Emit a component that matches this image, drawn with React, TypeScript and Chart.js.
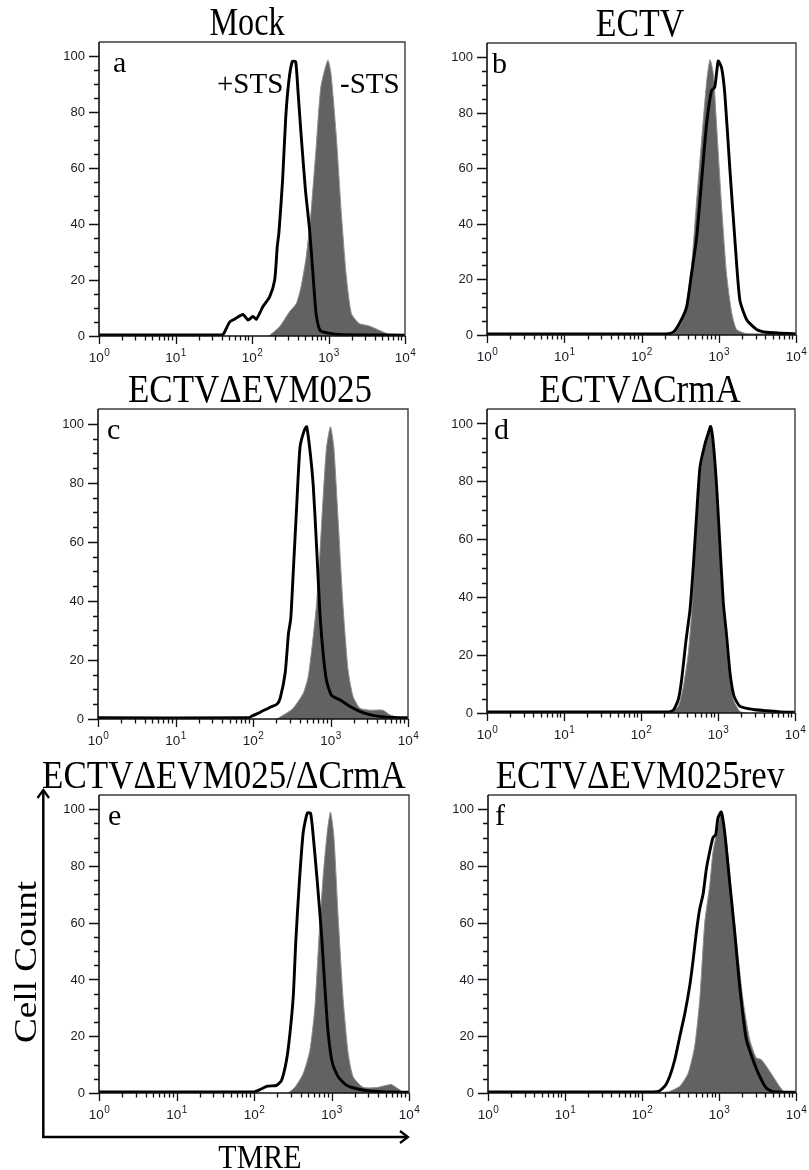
import { useEffect, useRef } from 'react';
import { Chart, registerables } from 'chart.js';

Chart.register(...registerables);

const SERIF = '"Liberation Serif", "Times New Roman", serif';
const SANS = '"Liberation Sans", Arial, sans-serif';

// TMRE fluorescence (x, log scale) and cell count (% of max, y) for each sample.
// "minus" = untreated (-STS, grey filled), "plus" = staurosporine treated (+STS, black line).
const aMinusX = [167, 229, 310, 380, 438, 510, 590, 690, 795, 980, 1075, 1260, 1470, 1700, 1990, 2500, 3400, 4650, 6300, 7000];
const aMinusY = [0, 3.3, 8.7, 11.6, 17.6, 28, 44, 67.5, 89, 98.5, 94, 72, 44, 22, 8, 4.5, 3.6, 2, 0.4, 0];
const aPlusX = [1, 40, 43, 51, 59, 76, 89, 103, 114, 139, 170, 198, 214, 225, 251, 276, 303, 336, 372, 398, 438, 500, 566, 635, 688, 776, 1000, 1500, 10000];
const aPlusY = [0.4, 0.4, 1, 5, 6, 7.7, 5.7, 7, 6, 10.5, 14, 20, 32, 37, 55.6, 78, 91, 98, 98, 88, 72, 52, 38, 20, 8, 2, 1, 0.5, 0.3];

const bMinusX = [258, 330, 383, 444, 517, 600, 697, 770, 850, 935, 1090, 1260, 1470, 1700, 2300, 5000, 5600, 6900, 8000];
const bMinusY = [0, 4.3, 11.4, 24.5, 48, 70, 91, 99, 94, 76, 46, 22, 8, 2, 0.5, 0.6, 1, 0.3, 0];
const bPlusX = [1, 210, 258, 312, 383, 444, 517, 600, 697, 808, 887, 984, 1090, 1200, 1390, 1620, 1875, 2300, 3090, 4160, 10000];
const bPlusY = [0.4, 0.4, 1, 4.3, 10, 22, 35, 55.5, 76, 88, 89, 98.5, 96, 86.5, 60, 34, 12.6, 5.5, 2, 1, 0.4];

const cMinusX = [203, 273, 332, 447, 517, 599, 661, 730, 805, 889, 1000, 1104, 1254, 1453, 1683, 1950, 2378, 3192, 4730, 5750, 7740, 8500];
const cMinusY = [0, 2, 3.7, 8.8, 14.5, 28, 39, 56, 75.5, 92, 99, 92, 67.5, 38, 16.7, 7.7, 3.7, 3, 3, 1.5, 0.3, 0];
const cPlusX = [1, 88, 97, 124, 167, 203, 224, 260, 287, 307, 332, 366, 404, 455, 492, 543, 599, 661, 730, 805, 889, 1030, 1318, 1770, 2378, 3192, 4285, 6320, 10000];
const cPlusY = [0.4, 0.4, 1, 2.3, 4, 5, 7, 15.6, 29, 34, 50.6, 72, 92, 97.5, 99, 91, 79, 58.5, 36, 22, 13, 8, 6.5, 4.3, 2.6, 1.5, 0.9, 0.5, 0.4];

const dMinusX = [238, 305, 355, 412, 455, 502, 556, 645, 749, 803, 870, 961, 1062, 1197, 1361, 1581, 1930, 2356];
const dMinusY = [0, 2.3, 9.2, 20.7, 34.5, 55, 77, 90, 96.7, 99, 91, 75, 52, 33, 16, 4.6, 0.5, 0];
const dPlusX = [1, 226, 263, 305, 337, 384, 433, 478, 529, 584, 678, 749, 803, 870, 961, 1062, 1173, 1296, 1432, 1613, 1930, 2880, 4280, 6380, 10000];
const dPlusY = [0.4, 0.4, 1, 4.6, 11.5, 25, 35.7, 50.6, 69, 85, 93, 96.7, 99, 93, 78, 57.5, 38, 26.5, 13.8, 5.8, 2.3, 1.2, 0.8, 0.4, 0.3];

const eMinusX = [277, 337, 431, 526, 610, 693, 781, 880, 970, 1072, 1219, 1413, 1640, 1901, 2558, 3795, 5100, 5930, 6870, 8380, 9000];
const eMinusY = [0, 2, 6.8, 15, 30, 56, 76.4, 91.7, 99, 90.6, 62, 33, 14, 5.7, 2, 1.9, 2.7, 3, 1.9, 0.3, 0];
const ePlusX = [1, 100, 119, 149, 196, 227, 263, 291, 321, 347, 384, 431, 486, 537, 581, 653, 743, 820, 906, 1030, 1219, 1561, 2099, 3118, 5100, 10000];
const ePlusY = [0.4, 0.4, 1.2, 2.4, 2.7, 4.5, 11.6, 21, 34, 54, 74, 91.7, 98.6, 98.6, 90.6, 75, 56, 37.5, 21, 10.4, 5.7, 2.7, 1.5, 0.7, 0.35, 0.3];

const fMinusX = [171, 230, 310, 398, 484, 563, 653, 757, 836, 942, 1072, 1244, 1443, 1675, 2043, 2493, 3043, 3528, 4094, 4993, 6082, 7060, 7500];
const fMinusY = [0, 0.6, 2.4, 7, 16.5, 33, 60, 73, 85, 92, 99, 89, 71, 54, 33, 19, 12.4, 11.8, 9.5, 6, 2.4, 0.3, 0];
const fPlusX = [1, 127, 163, 198, 230, 267, 310, 360, 418, 462, 510, 563, 621, 686, 757, 836, 906, 971, 1072, 1184, 1374, 1595, 1850, 2256, 2754, 3357, 4094, 4993, 10000];
const fPlusY = [0.4, 0.4, 0.6, 2.4, 6, 11.8, 20, 28, 38, 47, 57, 65, 70, 79, 85, 90, 91, 97, 99, 92, 74.5, 57, 38, 19, 11.8, 6, 1.8, 0.5, 0.3];

// Axis ticks
const X_DECADES = [1, 10, 100, 1000, 10000];
const X_EXPONENTS = ['0', '1', '2', '3', '4'];
const Y_MAJOR = [0, 20, 40, 60, 80, 100];
const Y_LABELS = ['0', '20', '40', '60', '80', '100'];

type Box = { left: number; top: number; right: number; bottom: number };
type Note = { text: string; dx: number; dy: number };
type Panel = {
  key: string;
  title: string;
  titleX: number;
  titleScaleX: number;
  letter: string;
  letterDx: number;
  minusX: number[];
  minusY: number[];
  plusX: number[];
  plusY: number[];
  box: Box;
  notes: Note[];
};

const PANELS: Panel[] = [
  { key: 'a', title: 'Mock', titleX: 247, titleScaleX: 0.92, letter: 'a', letterDx: 14, minusX: aMinusX, minusY: aMinusY, plusX: aPlusX, plusY: aPlusY,
    box: { left: 99, top: 42, right: 405, bottom: 336 },
    notes: [{ text: '+STS', dx: 118, dy: 51 }, { text: '-STS', dx: 241, dy: 51 }] },
  { key: 'b', title: 'ECTV', titleX: 640, titleScaleX: 0.97, letter: 'b', letterDx: 5, minusX: bMinusX, minusY: bMinusY, plusX: bPlusX, plusY: bPlusY,
    box: { left: 487, top: 43, right: 796, bottom: 335 }, notes: [] },
  { key: 'c', title: 'ECTVΔEVM025', titleX: 250, titleScaleX: 1, letter: 'c', letterDx: 9, minusX: cMinusX, minusY: cMinusY, plusX: cPlusX, plusY: cPlusY,
    box: { left: 98, top: 409, right: 408, bottom: 719 }, notes: [] },
  { key: 'd', title: 'ECTVΔCrmA', titleX: 640, titleScaleX: 1, letter: 'd', letterDx: 7, minusX: dMinusX, minusY: dMinusY, plusX: dPlusX, plusY: dPlusY,
    box: { left: 487, top: 409, right: 795, bottom: 713 }, notes: [] },
  { key: 'e', title: 'ECTVΔEVM025/ΔCrmA', titleX: 224, titleScaleX: 1, letter: 'e', letterDx: 9, minusX: eMinusX, minusY: eMinusY, plusX: ePlusX, plusY: ePlusY,
    box: { left: 99, top: 795, right: 409, bottom: 1093 }, notes: [] },
  { key: 'f', title: 'ECTVΔEVM025rev', titleX: 640, titleScaleX: 1, letter: 'f', letterDx: 7, minusX: fMinusX, minusY: fMinusY, plusX: fPlusX, plusY: fPlusY,
    box: { left: 488, top: 795, right: 796, bottom: 1093 }, notes: [] },
];

const PAD = { left: 62, top: 10, right: 12, bottom: 40 };

function toPoints(xs: number[], ys: number[]) {
  return xs.map((x, i) => ({ x, y: ys[i] }));
}

// Draws the frame, tick marks, tick labels, panel letter and annotations.
function decorations(panel: Panel) {
  return {
    id: 'decorations' + panel.key,
    afterDraw(chart: any) {
      const ctx: CanvasRenderingContext2D = chart.ctx;
      const xs = chart.scales.x;
      const ys = chart.scales.y;
      const { left, right, top, bottom } = chart.chartArea;
      ctx.save();

      // frame (top + right)
      ctx.strokeStyle = '#3c3c3c';
      ctx.lineWidth = 1.4;
      ctx.beginPath();
      ctx.moveTo(left, top);
      ctx.lineTo(right, top);
      ctx.lineTo(right, bottom);
      ctx.stroke();

      // axes
      ctx.strokeStyle = '#111';
      ctx.lineWidth = 1.6;
      ctx.beginPath();
      ctx.moveTo(left, top);
      ctx.lineTo(left, bottom);
      ctx.lineTo(right, bottom);
      ctx.stroke();

      // y ticks
      ctx.lineWidth = 1.3;
      ctx.beginPath();
      for (let v = 0; v <= 100; v += 5) {
        const py = Math.round(ys.getPixelForValue(v)) + 0.5;
        const len = v % 20 === 0 ? 10 : 5;
        ctx.moveTo(left, py);
        ctx.lineTo(left - len, py);
      }
      ctx.stroke();

      // x ticks
      ctx.beginPath();
      X_DECADES.forEach((d, i) => {
        const px = Math.round(xs.getPixelForValue(d)) + 0.5;
        ctx.moveTo(px, bottom);
        ctx.lineTo(px, bottom + 8);
        if (i < X_DECADES.length - 1) {
          for (let m = 2; m <= 9; m++) {
            const mx = Math.round(xs.getPixelForValue(d * m)) + 0.5;
            ctx.moveTo(mx, bottom);
            ctx.lineTo(mx, bottom + 4.5);
          }
        }
      });
      ctx.stroke();

      // y labels
      ctx.fillStyle = '#1b1b24';
      ctx.font = `13px ${SANS}`;
      ctx.textAlign = 'right';
      ctx.textBaseline = 'middle';
      Y_MAJOR.forEach((v, i) => {
        ctx.fillText(Y_LABELS[i], left - 14, ys.getPixelForValue(v) + 0.5);
      });

      // x labels: 10 with superscript exponent
      ctx.textAlign = 'left';
      ctx.textBaseline = 'alphabetic';
      X_DECADES.forEach((d, i) => {
        const px = xs.getPixelForValue(d);
        ctx.font = `13.5px ${SANS}`;
        const w1 = ctx.measureText('10').width;
        ctx.font = `10px ${SANS}`;
        const w2 = ctx.measureText(X_EXPONENTS[i]).width;
        const x0 = px - (w1 + w2) / 2;
        ctx.font = `13.5px ${SANS}`;
        ctx.fillText('10', x0, bottom + 26);
        ctx.font = `10px ${SANS}`;
        ctx.fillText(X_EXPONENTS[i], x0 + w1 + 0.5, bottom + 19.5);
      });

      // panel letter and notes
      ctx.fillStyle = '#000';
      ctx.font = `30px ${SERIF}`;
      ctx.fillText(panel.letter, left + panel.letterDx, top + 30);
      ctx.font = `29px ${SERIF}`;
      panel.notes.forEach((n) => ctx.fillText(n.text, left + n.dx, top + n.dy));

      ctx.restore();
    },
  };
}

function Histogram({ panel }: { panel: Panel }) {
  const ref = useRef<HTMLCanvasElement>(null);
  const { box } = panel;
  const width = box.right - box.left + PAD.left + PAD.right;
  const height = box.bottom - box.top + PAD.top + PAD.bottom;

  useEffect(() => {
    if (!ref.current) return;
    const chart = new Chart(ref.current, {
      type: 'line',
      data: {
        datasets: [
          {
            label: '-STS',
            data: toPoints(panel.minusX, panel.minusY),
            fill: 'origin',
            backgroundColor: '#626262',
            borderColor: '#8e8e8e',
            borderWidth: 1,
            pointRadius: 0,
            tension: 0.2,
            order: 2,
          },
          {
            label: '+STS',
            data: toPoints(panel.plusX, panel.plusY),
            fill: false,
            borderColor: '#000',
            borderWidth: 2.9,
            pointRadius: 0,
            tension: 0.2,
            order: 1,
          },
        ],
      },
      options: {
        animation: false,
        responsive: false,
        devicePixelRatio: 1,
        layout: { padding: PAD },
        plugins: { legend: { display: false }, tooltip: { enabled: false } },
        scales: {
          x: { type: 'logarithmic', min: 1, max: 10000, display: false },
          y: { type: 'linear', min: 0, max: 105, display: false },
        },
      },
      plugins: [decorations(panel)],
    } as any);
    return () => chart.destroy();
  }, [panel]);

  return (
    <canvas
      ref={ref}
      width={width}
      height={height}
      style={{ position: 'absolute', left: box.left - PAD.left, top: box.top - PAD.top, width, height }}
    />
  );
}

export default function App() {
  return (
    <div style={{ position: 'absolute', left: 0, top: 0, width: 809, height: 1170, background: '#fff', overflow: 'hidden' }}>
      {PANELS.map((p) => (
        <Histogram key={p.key} panel={p} />
      ))}
      <svg width={809} height={1170} style={{ position: 'absolute', left: 0, top: 0, pointerEvents: 'none' }}>
        {PANELS.map((p) => (
          <text
            key={p.key}
            transform={`translate(${p.titleX} ${p.box.top - 7}) scale(${p.titleScaleX} 1.15)`}
            textAnchor="middle"
            fontFamily={SERIF}
            fontSize={35}
            fill="#000"
          >
            {p.title}
          </text>
        ))}
        <text transform="translate(36 962) rotate(-90) scale(1.2 1)" textAnchor="middle" fontFamily={SERIF} fontSize={31} fill="#000">
          Cell Count
        </text>
        <text transform="translate(260 1168) scale(1 1.15)" textAnchor="middle" fontFamily={SERIF} fontSize={30} fill="#000">
          TMRE
        </text>
        <line x1={43.3} y1={1137} x2={43.3} y2={791} stroke="#000" strokeWidth={2.5} />
        <polyline points="37.5,798 43.3,790 49,798" fill="none" stroke="#000" strokeWidth={2.2} />
        <line x1={42} y1={1137} x2={407} y2={1137} stroke="#000" strokeWidth={2.5} />
        <polyline points="400,1131 408,1137 400,1143" fill="none" stroke="#000" strokeWidth={2.2} />
      </svg>
    </div>
  );
}
